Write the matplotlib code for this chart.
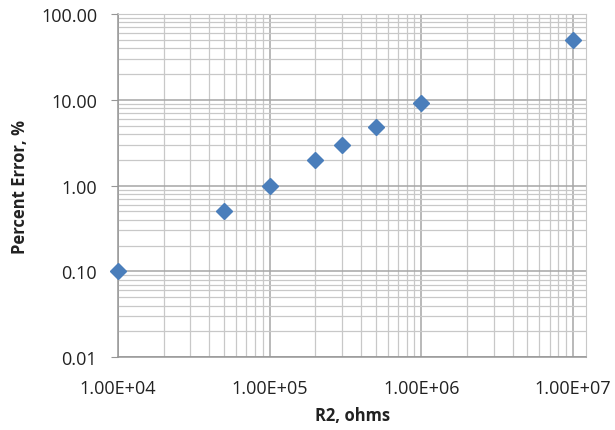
import numpy as np
import matplotlib.pyplot as plt
from matplotlib.ticker import FuncFormatter, LogLocator, NullFormatter

# data
r2_ohms = [1e4, 5e4, 1e5, 2e5, 3e5, 5e5, 1e6, 1e7]
percent_error = [0.1, 0.5, 1.0, 2.0, 3.0, 4.8, 9.2, 50.0]

plt.rcParams['font.family'] = ['Open Sans', 'DejaVu Sans']

fig = plt.figure(figsize=(6.15, 4.31), dpi=100)
ax = fig.add_axes([0.192, 0.169, 0.761, 0.796])

ax.set_xscale('log')
ax.set_yscale('log')
ax.set_xlim(1e4, 1.22e7)
ax.set_ylim(0.01, 100)

ax.xaxis.set_major_locator(LogLocator(base=10, numticks=10))
ax.xaxis.set_minor_locator(LogLocator(base=10, subs=np.arange(2, 10), numticks=20))
ax.yaxis.set_major_locator(LogLocator(base=10, numticks=10))
ax.yaxis.set_minor_locator(LogLocator(base=10, subs=np.arange(2, 10), numticks=20))
ax.xaxis.set_minor_formatter(NullFormatter())
ax.yaxis.set_minor_formatter(NullFormatter())

ax.xaxis.set_major_formatter(FuncFormatter(lambda v, p: "%.2E" % v))
ax.yaxis.set_major_formatter(FuncFormatter(lambda v, p: "%.2f" % v))

ax.grid(which='minor', color='#c8c8c8', linewidth=0.9)
ax.grid(which='major', color='#a6a6a6', linewidth=1.1)
ax.set_axisbelow(True)

for side in ['top', 'right']:
    ax.spines[side].set_color('#c8c8c8')
for side in ['left', 'bottom']:
    ax.spines[side].set_color('#969696')
    ax.spines[side].set_linewidth(1.1)

ax.tick_params(axis='y', which='major', length=5, color='#969696', labelsize=13,
               labelcolor='#222222', pad=10)
ax.tick_params(axis='x', which='major', length=0, labelsize=13,
               labelcolor='#222222', pad=16)
ax.tick_params(which='minor', length=0)

ax.plot(r2_ohms, percent_error, linestyle='none', marker='D', markersize=8.5,
        color='#4a7ebb', markeredgecolor='#4a7ebb', clip_on=False, zorder=3)

ax.set_xlabel('R2, ohms', fontsize=12, fontweight='bold', labelpad=6, color='#222222')
ax.set_ylabel('Percent Error, %', fontsize=12, fontweight='bold', labelpad=9, color='#222222')

fig.savefig('out.png', dpi=100)
